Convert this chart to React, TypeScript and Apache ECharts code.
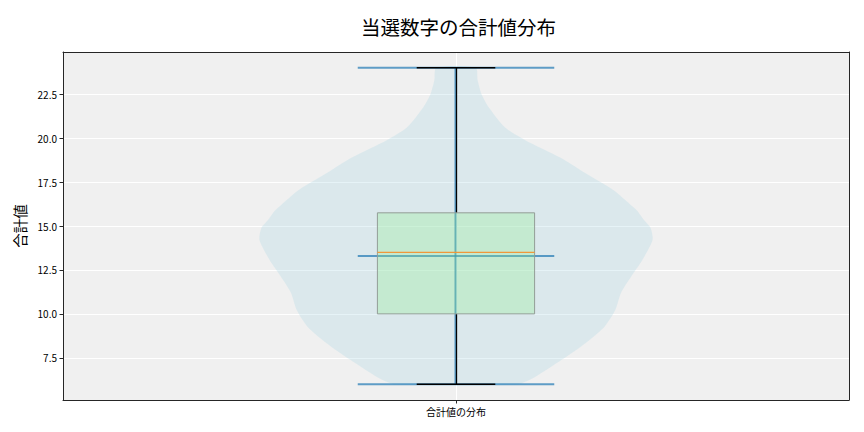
import React, { useEffect, useRef } from "react";
import * as echarts from "echarts";

const categories = ["合計値の分布"];
const yTicks = [7.5, 10, 12.5, 15, 17.5, 20, 22.5];
const violinValues = [6.0, 6.4, 7.4, 8.35, 9.26, 10.2, 11.2, 12.1, 13.1, 14.2, 14.9, 15.3, 15.9, 16.1, 17.05, 18.0, 18.9, 19.9, 20.6, 21.7, 22.5, 23.3, 24.0];
const violinDensity = [0.31, 0.4, 0.54, 0.66, 0.755, 0.81, 0.84, 0.89, 0.95, 1.0, 0.99, 0.96, 0.92, 0.9, 0.8, 0.66, 0.53, 0.35, 0.25, 0.17, 0.13, 0.11, 0.1];
// min, q1, median, q3, max
const boxStats = [6, 10, 13.5, 15.75, 24];
const meanValues = [13.3];

const FONT = "'Noto Sans CJK JP', 'Noto Sans', sans-serif";

export default function App() {
  const ref = useRef<HTMLDivElement>(null);
  useEffect(() => {
    document.body.style.margin = "0";
    const chart = echarts.init(ref.current!, null, { renderer: "svg" });
    const center = 1;
    const violinHalf = 0.25;
    const extremaHalf = 0.125;
    const boxHalf = 0.1;
    const capHalf = 0.05;
    const [mn, q1, med, q3, mx] = boxStats;
    const blue = "rgba(31,119,180,0.7)";

    const renderItem = (params: any, api: any) => {
      const left: number[][] = [];
      const right: number[][] = [];
      violinValues.forEach((v, i) => {
        left.push(api.coord([center - violinHalf * violinDensity[i], v]));
        right.push(api.coord([center + violinHalf * violinDensity[i], v]));
      });
      const pts = left.concat(right.reverse());
      const hline = (y: number, half: number, stroke: string, lw: number) => {
        const a = api.coord([center - half, y]);
        const b = api.coord([center + half, y]);
        return { type: "line", shape: { x1: a[0], y1: a[1], x2: b[0], y2: b[1] }, style: { stroke, lineWidth: lw } };
      };
      const vline = (y1: number, y2: number, stroke: string, lw: number, dx = 0) => {
        const a = api.coord([center, y1]);
        const b = api.coord([center, y2]);
        return { type: "line", shape: { x1: a[0] + dx, y1: a[1], x2: b[0] + dx, y2: b[1] }, style: { stroke, lineWidth: lw } };
      };
      const bl = api.coord([center - boxHalf, q1]);
      const tr = api.coord([center + boxHalf, q3]);
      return {
        type: "group",
        children: [
          { type: "polygon", shape: { points: pts, smooth: 0.25 }, style: { fill: "rgba(173,216,230,0.3)" } },
          vline(mn, mx, blue, 2, -0.5),
          hline(mn, extremaHalf, blue, 2),
          hline(mx, extremaHalf, blue, 2),
          hline(meanValues[0], extremaHalf, blue, 2),
          vline(mn, q1, "#000", 1.3, 0.5),
          vline(q3, mx, "#000", 1.3, 0.5),
          hline(mn, capHalf, "#000", 1.5),
          hline(mx, capHalf, "#000", 1.5),
          {
            type: "rect",
            shape: { x: bl[0], y: tr[1], width: tr[0] - bl[0], height: bl[1] - tr[1] },
            style: { fill: "rgba(144,238,144,0.3)", stroke: "#939d97", lineWidth: 1 },
          },
          hline(med, boxHalf, "#f0983a", 1.2),
        ],
      };
    };

    chart.setOption({
      animation: false,
      textStyle: { fontFamily: FONT },
      title: {
        text: "当選数字の合計値分布",
        left: 356,
        top: 12,
        textStyle: { fontSize: 19.5, fontWeight: "normal", color: "#000", fontFamily: FONT },
      },
      grid: {
        left: 63,
        right: 15,
        top: 52,
        bottom: 32,
        show: true,
        backgroundColor: "#f0f0f0",
        borderWidth: 0,
      },
      xAxis: [
        {
          type: "value",
          min: 0.5,
          max: 1.5,
          axisLine: { show: true, onZero: false, lineStyle: { color: "#262626", width: 1 } },
          axisTick: { show: true, customValues: [1], length: 3.5, lineStyle: { color: "#262626" } },
          axisLabel: {
            customValues: [1],
            formatter: () => categories[0],
            fontSize: 10,
            color: "#000",
            margin: 6,
            fontFamily: FONT,
          },
          splitLine: { show: true, lineStyle: { color: "#ffffff", width: 1 } },
        },
        {
          type: "value",
          position: "top",
          min: 0.5,
          max: 1.5,
          axisLine: { show: true, onZero: false, lineStyle: { color: "#262626", width: 1 } },
          axisTick: { show: false },
          axisLabel: { show: false },
          splitLine: { show: false },
        },
      ],
      yAxis: [
        {
          type: "value",
          min: 5.1,
          max: 24.9,
          name: "合計値",
          nameLocation: "middle",
          nameGap: 35,
          nameTextStyle: { fontSize: 14.5, color: "#000", fontFamily: FONT },
          axisLine: { show: true, onZero: false, lineStyle: { color: "#262626", width: 1 } },
          axisTick: { show: true, customValues: yTicks, length: 3.5, lineStyle: { color: "#262626" } },
          axisLabel: {
            customValues: yTicks,
            formatter: (v: number) => v.toFixed(1),
            fontSize: 10,
            color: "#000",
            margin: 6,
            fontFamily: FONT,
          },
          splitLine: { show: true, lineStyle: { color: "#ffffff", width: 1 } },
        },
        {
          type: "value",
          position: "right",
          min: 5.1,
          max: 24.9,
          axisLine: { show: true, onZero: false, lineStyle: { color: "#262626", width: 1 } },
          axisTick: { show: false },
          axisLabel: { show: false },
          splitLine: { show: false },
        },
      ],
      series: [
        {
          type: "custom",
          xAxisIndex: 0,
          yAxisIndex: 0,
          data: [[center, boxStats[2]]],
          renderItem,
          silent: true,
          clip: false,
        },
      ],
    });
    return () => chart.dispose();
  }, []);
  return <div ref={ref} style={{ width: 864, height: 432 }} />;
}
